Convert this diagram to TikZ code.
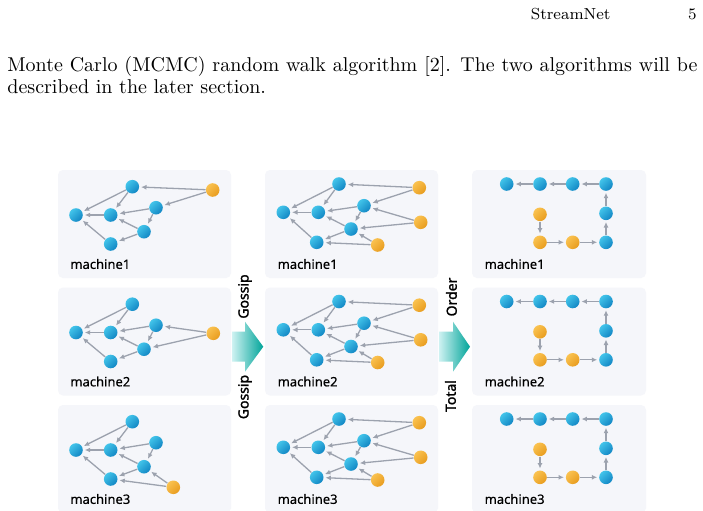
\documentclass[tikz,border=0pt]{standalone}
\usepackage{fontspec}
\newfontfamily\labelfont[FakeBold=0.4]{Noto Sans}
\newfontfamily\arrowfont[FakeBold=1.6]{Noto Sans}
\usetikzlibrary{arrows.meta,positioning,calc}

\definecolor{panelbg}{RGB}{245,246,250}
\definecolor{bluelight}{RGB}{66,196,234}
\definecolor{bluedark}{RGB}{18,134,196}
\definecolor{orangelight}{RGB}{250,194,80}
\definecolor{orangedark}{RGB}{232,156,30}
\definecolor{edgegray}{RGB}{156,162,174}
\definecolor{arrowlight}{RGB}{206,242,242}
\definecolor{arrowdark}{RGB}{0,164,153}

\tikzset{
  bnode/.style={circle,minimum size=6.8pt,inner sep=0pt,top color=bluelight,bottom color=bluedark,shading angle=45},
  onode/.style={circle,minimum size=6.8pt,inner sep=0pt,top color=orangelight,bottom color=orangedark,shading angle=45},
  link/.style={draw=edgegray,line width=0.65pt,-{Latex[length=2.7pt,width=2.5pt]},shorten >=0.8pt},
  panel/.style={fill=panelbg,rounded corners=2.5pt},
  mlabel/.style={font=\labelfont\fontsize{6.5}{7}\selectfont,anchor=west,inner sep=0pt},
  arrowlab/.style={font=\arrowfont\fontsize{7}{8}\selectfont,rotate=90,inner sep=0pt},
}

\begin{document}
\begin{tikzpicture}[x=0.5pt,y=-0.5pt]
    \useasboundingbox (0,0) rectangle (703,510);
    \clip (0,0) rectangle (703,510);
    \fill[white] (0,0) rectangle (703,510);

    % page text
    \node[anchor=base east,inner sep=0pt,font=\fontsize{8}{10}\selectfont] (runhead) at (611,19) {StreamNet};
    \node[anchor=base east,inner sep=0pt,font=\fontsize{8}{10}\selectfont] (pagenum) at (697,19) {5};
    \node[anchor=base west,inner sep=0pt,font=\fontsize{10}{12}\selectfont] (line1) at (7,71.7)
        {\makebox[345pt][s]{Monte Carlo (MCMC) random walk algorithm [2]. The two algorithms will be}};
    \node[anchor=base west,inner sep=0pt,font=\fontsize{10}{12}\selectfont] (line2) at (7,93.3)
        {described in the later section.};

    \foreach \r/\dy/\ox/\oy/\ta/\tb in {1/0/212.7/190/a/r, 2/117.5/213.3/215.8/r/s, 3/235/173.3/252.3/s/b}{
    \begin{scope}[shift={(0,\dy)}]
        \fill[panel] (58,170) rectangle (231,278);
        \fill[panel] (265,170) rectangle (438,278);
        \fill[panel] (472,170) rectangle (646,278);
        \node[mlabel] (in-lab-\r) at (70,264) {machine\r};
        \node[mlabel] (gs-lab-\r) at (277.3,264) {machine\r};
        \node[mlabel] (to-lab-\r) at (484.3,264) {machine\r};

        % before gossip
        \node[bnode] (in-a-\r) at (132.3,186.7) {};
        \node[bnode] (in-l-\r) at (76,215) {};
        \node[bnode] (in-m-\r) at (110.7,215) {};
        \node[bnode] (in-r-\r) at (156,207.7) {};
        \node[bnode] (in-s-\r) at (144,231.7) {};
        \node[bnode] (in-b-\r) at (110.7,244) {};
        \node[onode] (in-o-\r) at (\ox,\oy) {};
        \foreach \s/\t in {a/l,a/m,m/l,r/m,r/s,s/m,s/b,b/l,o/\ta,o/\tb}
            \draw[link] (in-\s-\r) -- (in-\t-\r);

        % after gossip
        \node[bnode] (gs-a-\r) at (339,184) {};
        \node[bnode] (gs-l-\r) at (283.3,212.3) {};
        \node[bnode] (gs-m-\r) at (318.3,212.3) {};
        \node[bnode] (gs-r-\r) at (364,205.7) {};
        \node[bnode] (gs-s-\r) at (351,229) {};
        \node[bnode] (gs-b-\r) at (316.7,242.3) {};
        \node[onode] (gs-o1-\r) at (419.3,187.7) {};
        \node[onode] (gs-o2-\r) at (420.7,222.3) {};
        \node[onode] (gs-o3-\r) at (377.7,245) {};
        \foreach \s/\t in {a/l,a/m,m/l,r/m,r/s,s/m,s/b,b/l,o1/a,o1/r,o2/r,o2/s,o3/s,o3/b}
            \draw[link] (gs-\s-\r) -- (gs-\t-\r);

        % total order
        \node[bnode] (to-t1-\r) at (506.7,184) {};
        \node[bnode] (to-t2-\r) at (540,184) {};
        \node[bnode] (to-t3-\r) at (572.7,184) {};
        \node[bnode] (to-t4-\r) at (606,184) {};
        \node[bnode] (to-mr-\r) at (606,213.3) {};
        \node[bnode] (to-br-\r) at (606,242.3) {};
        \node[onode] (to-q1-\r) at (540,214.3) {};
        \node[onode] (to-q2-\r) at (540,242.3) {};
        \node[onode] (to-q3-\r) at (572.7,242.3) {};
        \foreach \s/\t in {q1/q2,q2/q3,q3/br,br/mr,mr/t4,t4/t3,t3/t2,t2/t1}
            \draw[link] (to-\s-\r) -- (to-\t-\r);
    \end{scope}}

    % block arrows
    \shade[left color=arrowlight,right color=arrowdark]
        (232,331.7) -- (245,331.7) -- (245,321.7) -- (263.3,346.7) -- (245,371.7) -- (245,361.7) -- (232,361.7) -- cycle;
    \shade[left color=arrowlight,right color=arrowdark]
        (439,331.7) -- (453,331.7) -- (453,321.7) -- (470,346.7) -- (453,371.7) -- (453,361.7) -- (439,361.7) -- cycle;
    \node[arrowlab] (gossip-up) at (245,296.5) {Gossip};
    \node[arrowlab] (gossip-dn) at (245,397) {Gossip};
    \node[arrowlab] (order-up) at (451.5,297) {Order};
    \node[arrowlab] (total-dn) at (450.5,396) {Total};
\end{tikzpicture}
\end{document}
